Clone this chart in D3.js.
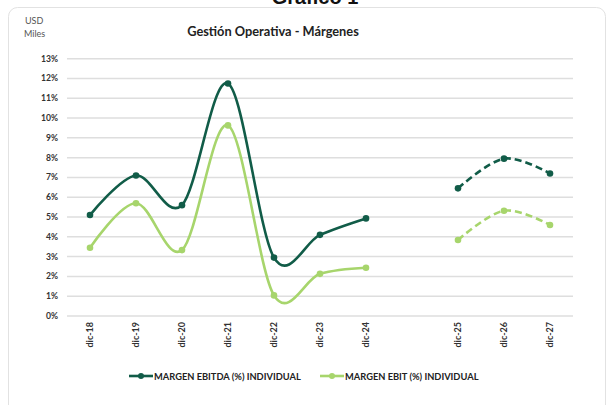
<!DOCTYPE html>
<html>
<head>
<meta charset="utf-8">
<script src="https://cdn.jsdelivr.net/npm/d3@7"></script>
<style>
body{margin:0;background:#fff;}
svg{display:block;font-family:Lato,"Open Sans",sans-serif;}
</style>
</head>
<body>
<svg id="chart" width="609" height="405"></svg>
<script>
// categorias (la vacia separa real de proyectado)
var categorias = ["dic-18","dic-19","dic-20","dic-21","dic-22","dic-23","dic-24","","dic-25","dic-26","dic-27"];
var ebitda_real = [5.1, 7.1, 5.6, 11.75, 2.95, 4.1, 4.93];
var ebitda_proy = [6.45, 7.95, 7.2];
var ebit_real = [3.45, 5.7, 3.33, 9.63, 1.04, 2.13, 2.44];
var ebit_proy = [3.84, 5.32, 4.6];
var ticks_y = [0,1,2,3,4,5,6,7,8,9,10,11,12,13];

var oscuro = "#115c48", claro = "#a7d56c";

var svg = d3.select("#chart");

// tarjeta
svg.append("rect").attr("x",8.5).attr("y",7.5).attr("width",597).attr("height",420)
   .attr("rx",9).attr("fill","#fff").attr("stroke","#e2e2e2");
svg.append("text").attr("x",315).attr("y",3.5).attr("text-anchor","middle")
   .attr("font-size",20).attr("font-weight","bold").attr("font-family","Liberation Sans, Arial")
   .attr("fill","#111").text("Gráfico 1");

svg.append("text").attr("x",25).attr("y",24).attr("font-size",9).attr("fill","#555").text("USD");
svg.append("text").attr("x",24).attr("y",37).attr("font-size",9).attr("fill","#555").text("Miles");
svg.append("text").attr("x",273).attr("y",36).attr("text-anchor","middle")
   .attr("font-size",12.8).attr("font-weight","bold").attr("fill","#222").text("Gestión Operativa - Márgenes");

var x = d3.scaleBand().domain(d3.range(categorias.length)).range([67,573]);
var y = d3.scaleLinear().domain([0,13]).range([316,58.7]);
var cx = function(i){ return x(i) + x.bandwidth()/2; };

// grilla
svg.append("g").selectAll("line").data(ticks_y).enter().append("line")
   .attr("x1",67).attr("x2",573).attr("y1",function(d){return y(d);}).attr("y2",function(d){return y(d);})
   .attr("stroke","#dedede").attr("stroke-width",1.5);

svg.append("g").selectAll("text").data(ticks_y).enter().append("text")
   .attr("x",58).attr("y",function(d){return y(d)+3;}).attr("text-anchor","end")
   .attr("font-size",8.6).attr("font-weight","bold").attr("fill","#333")
   .text(function(d){return d+"%";});

svg.append("g").selectAll("text").data(categorias).enter().append("text")
   .attr("transform",function(d,i){return "translate("+(cx(i)+3.3)+",322) rotate(-90)";})
   .attr("text-anchor","end").attr("font-size",9).attr("font-weight","bold").attr("fill","#333")
   .text(function(d){return d;});

function serie(vals, inicio, color, rayado){
  var pts = vals.map(function(v,k){ return [cx(inicio+k), y(v)]; });
  var linea = d3.line().curve(d3.curveCatmullRom.alpha(0));
  svg.append("path").attr("d",linea(pts)).attr("fill","none").attr("stroke",color)
     .attr("stroke-width",2.6).attr("stroke-dasharray",rayado ? "7,4" : null);
  svg.append("g").selectAll("circle").data(pts).enter().append("circle")
     .attr("cx",function(p){return p[0];}).attr("cy",function(p){return p[1];})
     .attr("r",3.3).attr("fill",color);
}
serie(ebit_real,0,claro,false);
serie(ebit_proy,8,claro,true);
serie(ebitda_real,0,oscuro,false);
serie(ebitda_proy,8,oscuro,true);

// leyenda
var leyenda = [{t:"MARGEN EBITDA (%) INDIVIDUAL",c:oscuro,x:129},{t:"MARGEN EBIT (%) INDIVIDUAL",c:claro,x:320}];
var lg = svg.append("g").selectAll("g").data(leyenda).enter().append("g");
lg.append("line").attr("x1",function(d){return d.x;}).attr("x2",function(d){return d.x+24;})
  .attr("y1",376).attr("y2",376).attr("stroke",function(d){return d.c;}).attr("stroke-width",2.6);
lg.append("circle").attr("cx",function(d){return d.x+12;}).attr("cy",376).attr("r",3)
  .attr("fill",function(d){return d.c;});
lg.append("text").attr("x",function(d){return d.x+25;}).attr("y",379.5)
  .attr("font-size",9.3).attr("font-weight","bold").attr("fill","#222").text(function(d){return d.t;});
</script>
</body>
</html>
